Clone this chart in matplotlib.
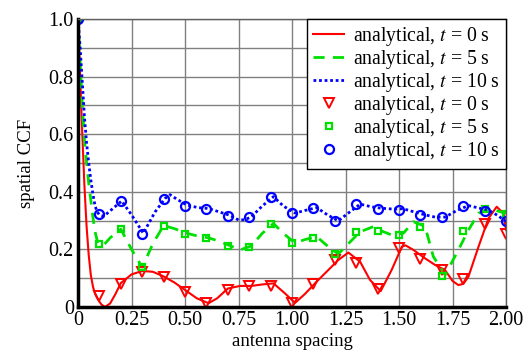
import matplotlib
matplotlib.use("Agg")
import matplotlib.pyplot as plt
from matplotlib.ticker import MultipleLocator
import numpy as np

plt.rcParams['font.family'] = ['Liberation Serif', 'DejaVu Serif']
plt.rcParams['mathtext.fontset'] = 'stix'

# analytical curves
x_red = [0, 0.01, 0.02, 0.03, 0.04, 0.05, 0.06, 0.07, 0.08, 0.09, 0.10, 0.11, 0.126,
         0.15, 0.175, 0.2, 0.25, 0.3, 0.35, 0.4, 0.45, 0.5, 0.555, 0.61, 0.65, 0.7,
         0.757, 0.81, 0.86, 0.913, 0.967, 1.014, 1.06, 1.115, 1.165, 1.216, 1.263,
         1.318, 1.364, 1.414, 1.465, 1.513, 1.53, 1.567, 1.621, 1.668, 1.715, 1.75,
         1.777, 1.8, 1.824, 1.871, 1.918, 1.956, 1.988, 2.0]
y_red = [1.0, 0.80, 0.60, 0.42, 0.28, 0.18, 0.11, 0.07, 0.045, 0.03, 0.018, 0.008, 0.0,
         0.012, 0.045, 0.083, 0.113, 0.125, 0.122, 0.106, 0.085, 0.059, 0.03, 0.013,
         0.03, 0.064, 0.073, 0.073, 0.078, 0.082, 0.047, 0.014, 0.045, 0.088, 0.125,
         0.163, 0.189, 0.157, 0.094, 0.055, 0.128, 0.209, 0.214, 0.198, 0.169, 0.146,
         0.128, 0.09, 0.076, 0.08, 0.105, 0.209, 0.308, 0.348, 0.325, 0.267]

x_green = [0, 0.01, 0.02, 0.03, 0.04, 0.05, 0.06, 0.07, 0.08, 0.09, 0.1, 0.12, 0.15,
           0.2, 0.25, 0.3, 0.35, 0.4, 0.45, 0.508, 0.56, 0.61, 0.66, 0.71, 0.757, 0.81,
           0.86, 0.913, 0.96, 1.014, 1.06, 1.115, 1.165, 1.216, 1.27, 1.318, 1.38,
           1.414, 1.465, 1.52, 1.567, 1.621, 1.66, 1.715, 1.777, 1.824, 1.871, 1.918,
           1.972, 2.0]
y_green = [1.0, 0.85, 0.70, 0.58, 0.5, 0.43, 0.37, 0.31, 0.26, 0.23, 0.215, 0.215, 0.24,
           0.27, 0.2, 0.138, 0.22, 0.283, 0.272, 0.256, 0.246, 0.24, 0.228, 0.213, 0.198,
           0.212, 0.255, 0.29, 0.255, 0.222, 0.234, 0.244, 0.212, 0.184, 0.225, 0.261,
           0.279, 0.265, 0.25, 0.256, 0.296, 0.28, 0.175, 0.111, 0.198, 0.267, 0.325,
           0.342, 0.331, 0.325]

x_blue = [0, 0.01, 0.02, 0.03, 0.04, 0.05, 0.06, 0.07, 0.08, 0.09, 0.1, 0.12, 0.16,
          0.204, 0.25, 0.305, 0.36, 0.407, 0.43, 0.46, 0.508, 0.56, 0.61, 0.66, 0.71,
          0.75, 0.78, 0.81, 0.86, 0.913, 0.96, 1.014, 1.06, 1.115, 1.165, 1.216, 1.27,
          1.318, 1.37, 1.414, 1.47, 1.52, 1.57, 1.621, 1.668, 1.715, 1.77, 1.824, 1.87,
          1.918, 1.96, 2.0]
y_blue = [1.0, 0.9, 0.78, 0.66, 0.57, 0.5, 0.44, 0.39, 0.35, 0.33, 0.32, 0.315, 0.34,
          0.368, 0.32, 0.256, 0.33, 0.377, 0.39, 0.375, 0.354, 0.345, 0.342, 0.33, 0.318,
          0.302, 0.303, 0.313, 0.35, 0.383, 0.35, 0.326, 0.335, 0.345, 0.32, 0.299, 0.33,
          0.357, 0.348, 0.343, 0.34, 0.341, 0.33, 0.32, 0.312, 0.312, 0.335, 0.352, 0.344,
          0.336, 0.318, 0.297]

# sampled points
x_pts = [0, 0.1, 0.2, 0.3, 0.4, 0.5, 0.6, 0.7, 0.8, 0.9, 1.0,
         1.1, 1.2, 1.3, 1.4, 1.5, 1.6, 1.7, 1.8, 1.9, 2.0]
p_red = [1.0, 0.037, 0.081, 0.122, 0.104, 0.051, 0.012, 0.060, 0.072, 0.073, 0.014,
         0.081, 0.162, 0.151, 0.064, 0.206, 0.167, 0.130, 0.098, 0.287, 0.253]
p_green = [1.0, 0.220, 0.269, 0.139, 0.282, 0.255, 0.240, 0.211, 0.207, 0.287, 0.222,
           0.240, 0.183, 0.262, 0.264, 0.251, 0.278, 0.109, 0.264, 0.340, 0.324]
p_blue = [1.0, 0.324, 0.367, 0.255, 0.375, 0.352, 0.341, 0.316, 0.312, 0.382, 0.327,
          0.343, 0.300, 0.356, 0.341, 0.338, 0.321, 0.312, 0.350, 0.333, 0.297]

labels = [r'analytical, $t$ = 0 s', r'analytical, $t$ = 5 s', r'analytical, $t$ = 10 s']

red, green, blue = '#ff0000', '#00e000', '#0000ff'

fig = plt.figure(figsize=(5.25, 3.52), dpi=100)
ax = fig.add_axes([0.1486, 0.128, 0.8154, 0.818])

ax.plot(x_red, y_red, color=red, lw=1.5, label=labels[0])
ax.plot(x_green, y_green, color=green, lw=2, ls=(0, (4, 3)), label=labels[1])
ax.plot(x_blue, y_blue, color=blue, lw=2, ls=(0, (1, 1)), label=labels[2])
ax.plot(x_pts, p_red, ls='none', marker='v', ms=7, mfc='none', mec=red, mew=1.4, label=labels[0])
ax.plot(x_pts, p_green, ls='none', marker='s', ms=5, mfc='none', mec=green, mew=1.6, label=labels[1])
ax.plot(x_pts, p_blue, ls='none', marker='o', ms=6.5, mfc='none', mec=blue, mew=1.6, label=labels[2])

ax.set_xlim(0, 2)
ax.set_ylim(0, 1)
ax.set_xticks([0, 0.25, 0.5, 0.75, 1.0, 1.25, 1.5, 1.75, 2.0])
ax.set_xticklabels(['0', '0.25', '0.50', '0.75', '1.00', '1.25', '1.50', '1.75', '2.00'])
ax.set_yticks([0, 0.2, 0.4, 0.6, 0.8, 1.0])
ax.set_yticklabels(['0', '0.2', '0.4', '0.6', '0.8', '1.0'])
ax.yaxis.set_minor_locator(MultipleLocator(0.1))
ax.grid(True, which='both', color='#808080', lw=1)
ax.set_axisbelow(True)
ax.tick_params(which='both', length=0, labelsize=14.5, pad=3)

for s in ['left', 'bottom']:
    ax.spines[s].set_linewidth(2.5)
    ax.spines[s].set_color('black')
for s in ['top', 'right']:
    ax.spines[s].set_linewidth(1)
    ax.spines[s].set_color('#606060')

ax.set_xlabel('antenna spacing', fontsize=13.5, labelpad=2)
ax.set_ylabel('spatial CCF', fontsize=13.5, labelpad=10)

leg = ax.legend(loc='upper right', fontsize=14.2, fancybox=False, framealpha=1,
                edgecolor='black', borderaxespad=0, handlelength=1.6,
                labelspacing=0.0, borderpad=0.3, handletextpad=0.45)
leg.get_frame().set_linewidth(1)

fig.savefig('out.png', dpi=100)
